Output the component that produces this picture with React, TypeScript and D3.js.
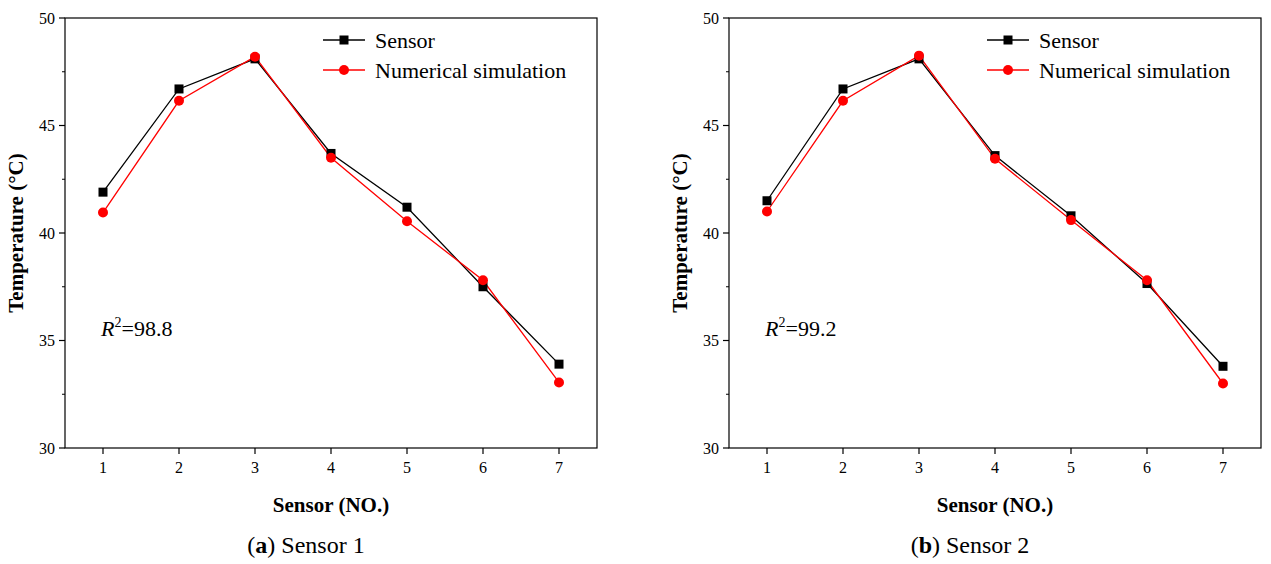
import React from "react";
import * as d3 from "d3";

const sensors = [1, 2, 3, 4, 5, 6, 7];
const xTicks = [1, 2, 3, 4, 5, 6, 7];
const yTicks = [30, 35, 40, 45, 50];
const sensorA = [41.9, 46.7, 48.1, 43.7, 41.2, 37.5, 33.9];
const simA = [40.95, 46.15, 48.2, 43.5, 40.55, 37.8, 33.05];
const sensorB = [41.5, 46.7, 48.1, 43.6, 40.8, 37.65, 33.8];
const simB = [41.0, 46.15, 48.25, 43.45, 40.6, 37.8, 33.0];

const font = "Liberation Serif, serif";

const Panel: React.FC<{
  left: number;
  s: number[];
  n: number[];
  r2: string;
  tag: string;
  title: string;
}> = ({ left, s, n, r2, tag, title }) => {
  const w = 532;
  const top = 18;
  const h = 430;
  const x = d3.scaleLinear().domain([0.5, 7.5]).range([0, w]);
  const y = d3.scaleLinear().domain([30, 50]).range([h, 0]);
  const line = d3
    .line<number>()
    .x((_, i) => x(sensors[i]))
    .y((d) => y(d));
  return (
    <g transform={`translate(${left},${top})`}>
      <rect width={w} height={h} fill="none" stroke="#000" strokeWidth={1.2} />
      {xTicks.map((t) => (
        <g key={t} transform={`translate(${x(t)},${h})`}>
          <line y2={6} stroke="#000" strokeWidth={1.2} />
          <text y={25} textAnchor="middle" fontSize={16}>{t}</text>
        </g>
      ))}
      {yTicks.map((t) => (
        <g key={t} transform={`translate(0,${y(t)})`}>
          <line x2={-6} stroke="#000" strokeWidth={1.2} />
          <text x={-10} dy="0.35em" textAnchor="end" fontSize={16}>{t}</text>
        </g>
      ))}
      {d3.range(32.5, 50, 5).map((t) => (
        <line key={t} x2={-3} y1={y(t)} y2={y(t)} stroke="#000" />
      ))}
      <path d={line(s) ?? ""} fill="none" stroke="#000" strokeWidth={1.3} />
      <path d={line(n) ?? ""} fill="none" stroke="#f00" strokeWidth={1.3} />
      {s.map((d, i) => (
        <rect key={i} x={x(sensors[i]) - 4.5} y={y(d) - 4.5} width={9} height={9} fill="#000" />
      ))}
      {n.map((d, i) => (
        <circle key={i} cx={x(sensors[i])} cy={y(d)} r={5} fill="#f00" />
      ))}
      <g transform="translate(258,22)" fontSize={22}>
        <line x1={0} x2={42} stroke="#000" strokeWidth={1.3} />
        <rect x={16.5} y={-4.5} width={9} height={9} fill="#000" />
        <text x={52} dy="0.35em">Sensor</text>
        <line x1={0} x2={42} y1={30} y2={30} stroke="#f00" strokeWidth={1.3} />
        <circle cx={21} cy={30} r={5} fill="#f00" />
        <text x={52} y={30} dy="0.35em">Numerical simulation</text>
      </g>
      <text x={36} y={318} fontSize={22}>
        <tspan fontStyle="italic">R</tspan>
        <tspan dy={-9} fontSize={14}>2</tspan>
        <tspan dy={9}>={r2}</tspan>
      </text>
      <text x={w / 2} y={h + 64} textAnchor="middle" fontSize={21} fontWeight="bold">Sensor (NO.)</text>
      <text transform={`translate(-42,${h / 2}) rotate(-90)`} textAnchor="middle" fontSize={21} fontWeight="bold">
        Temperature (°C)
      </text>
      <text x={w / 2 - 25} y={h + 105} textAnchor="middle" fontSize={24}>
        (<tspan fontWeight="bold">{tag}</tspan>) {title}
      </text>
    </g>
  );
};

export default function App() {
  return (
    <svg width={1271} height={564} style={{ position: "absolute", left: 0, top: 0, background: "#fff", fontFamily: font }}>
      <Panel left={65} s={sensorA} n={simA} r2="98.8" tag="a" title="Sensor 1" />
      <Panel left={729} s={sensorB} n={simB} r2="99.2" tag="b" title="Sensor 2" />
    </svg>
  );
}
